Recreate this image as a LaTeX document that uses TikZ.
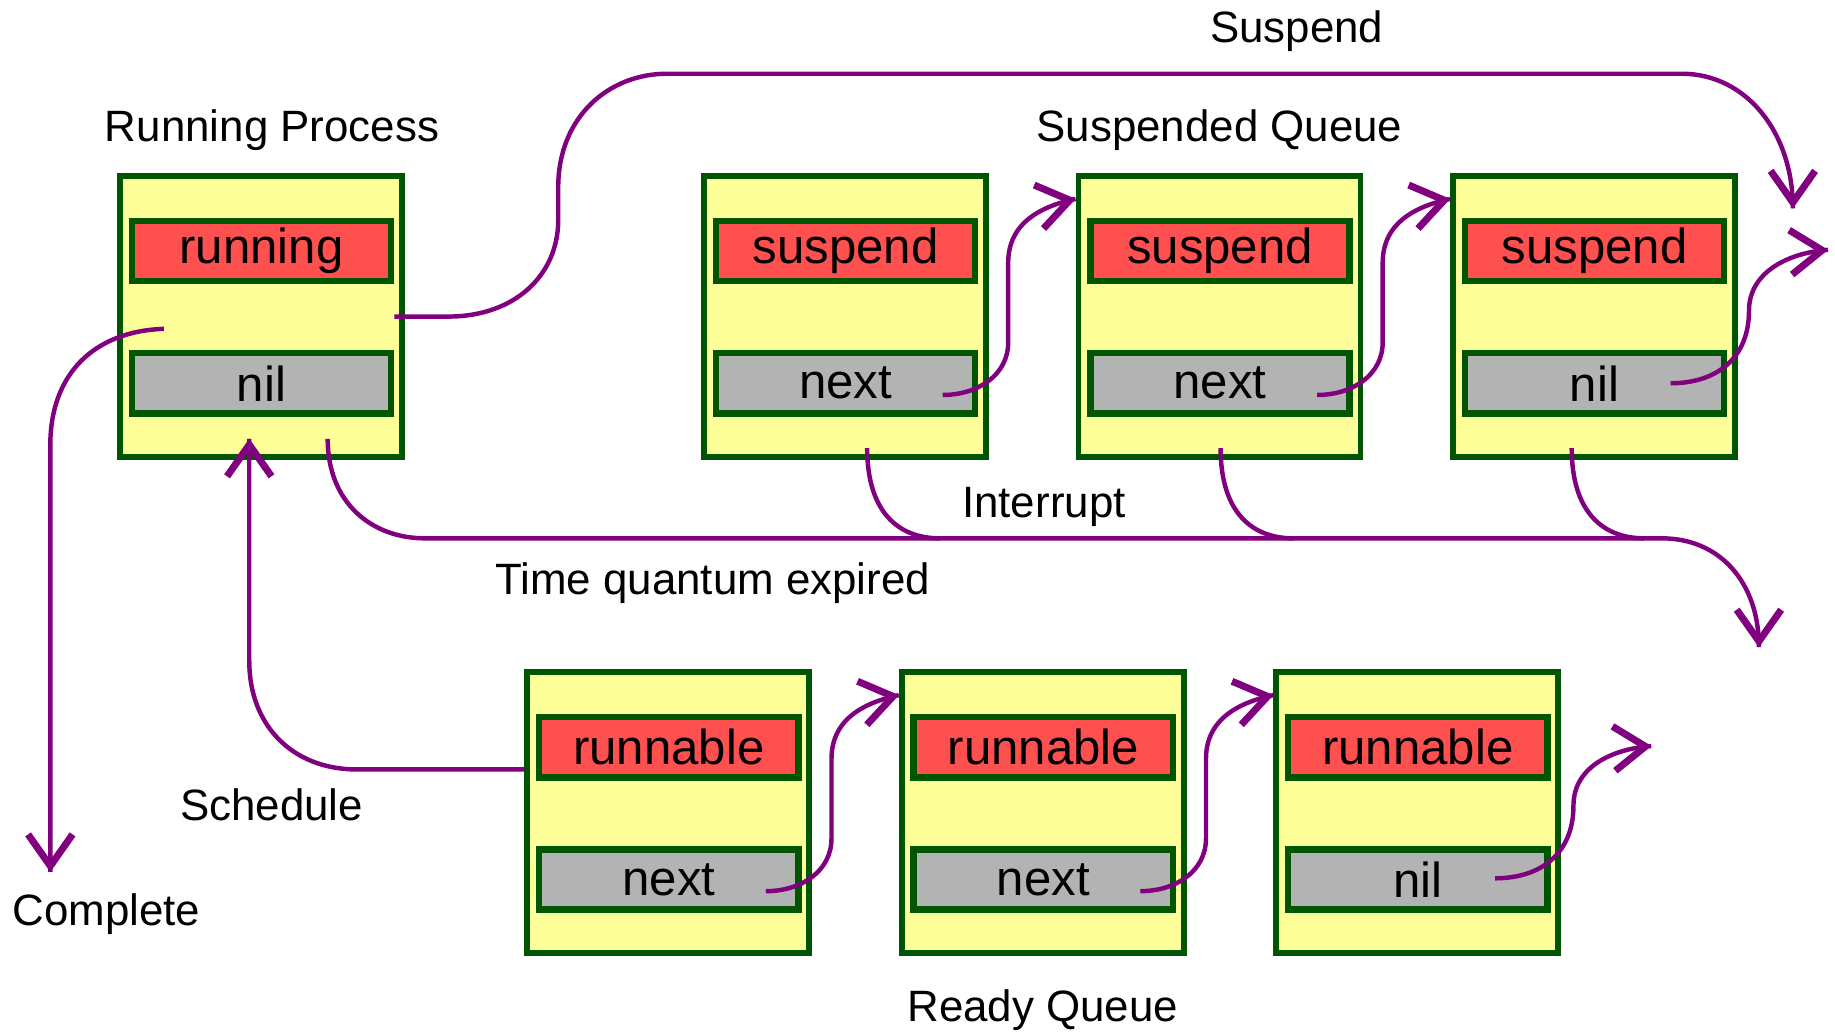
\documentclass[tikz,border=0pt]{standalone}
\usepackage{fontspec}
\setmainfont{Liberation Sans}
\usetikzlibrary{calc,decorations.markings}

\definecolor{recfill}{RGB}{255,255,153}
\definecolor{fieldred}{RGB}{255,80,80}
\definecolor{fieldgray}{RGB}{179,179,179}
\definecolor{dgreen}{RGB}{0,85,0}
\definecolor{purp}{RGB}{128,0,128}

% one process record: name, centre x, centre y, state field, link field
\newcommand\procrec[5]{%
  \node[recbox] (#1) at (#2,#3) {};
  \node[topfield] (#1-top) at (#2+0.5,#3-56) {#4};
  \node[botfield] (#1-bot) at (#2+0.5,#3+57) {#5};
}

\begin{document}
\begin{tikzpicture}[x=1pt,y=-1pt,
  recbox/.style={draw=dgreen, fill=recfill, line width=5pt,
    minimum width=241pt, minimum height=240pt, inner sep=0pt},
  field/.style={draw=dgreen, line width=5.5pt, minimum width=221.5pt,
    minimum height=51.5pt, inner sep=0pt, font=\fontsize{42}{46}\selectfont},
  topfield/.style={field, fill=fieldred},
  botfield/.style={field, fill=fieldgray},
  lbl/.style={font=\fontsize{37.5}{40}\selectfont, anchor=base, inner sep=0pt},
  conn/.style={draw=purp, line width=3.8pt},
  % connector ending in a bold open barb
  arr/.style={conn, postaction={decorate}, decoration={markings,
    mark=at position 0.99999 with {\draw[purp, line width=6pt, line join=miter,
      line cap=butt] (-32pt,-19pt) -- (-5pt,0pt) -- (-32pt,19pt);}}}]

\useasboundingbox (0,0) rectangle (1568,883);

% records
\procrec{run}{223}{270.5}{running}{nil}
\procrec{s1}{722}{270.5}{suspend}{next}
\procrec{s2}{1042}{270.5}{suspend}{next}
\procrec{s3}{1362}{270.5}{suspend}{nil}
\procrec{r1}{571}{694.5}{runnable}{next}
\procrec{r2}{891}{694.5}{runnable}{next}
\procrec{r3}{1211}{694.5}{runnable}{nil}

% captions
\node[lbl] (lbl-run) at (232.5,121) {Running Process};
\node[lbl] (lbl-susq) at (1042,121) {Suspended Queue};
\node[lbl] (lbl-susp) at (1108,36) {Suspend};
\node[lbl] (lbl-int) at (892,442) {Interrupt};
\node[lbl] (lbl-tq) at (609,508) {Time quantum expired};
\node[lbl] (lbl-sched) at (232,701) {Schedule};
\node[lbl] (lbl-done) at (91,791) {Complete};
\node[lbl] (lbl-readyq) at (891,873) {Ready Queue};

% free ends
\coordinate (s3-out) at ($(s3.east)+(77,-57)$);
\coordinate (r3-out) at ($(r3.east)+(77,-57)$);
\coordinate (susp-end) at (1532,178);
\coordinate (done-end) at (43,745);
\coordinate (ready-tail) at (1503,553);

% next pointers of the suspended queue
\draw[arr] ($(s1-bot.center)+(83,10)$) .. controls +(30,0) and +(0,28) .. ++(56,-45)
  -- ++(0,-68) .. controls +(0,-35) and +(-28,6) .. ($(s2.north west)+(0,22)$);
\draw[arr] ($(s2-bot.center)+(83,10)$) .. controls +(30,0) and +(0,28) .. ++(56,-45)
  -- ++(0,-68) .. controls +(0,-35) and +(-28,6) .. ($(s3.north west)+(0,22)$);
\draw[arr] ($(s3-bot.center)+(65,0)$) .. controls +(40,0) and +(0,40) .. ++(67,-62)
  .. controls +(0,-35) and +(-30,2) .. (s3-out);

% next pointers of the ready queue
\draw[arr] ($(r1-bot.center)+(83,10)$) .. controls +(30,0) and +(0,28) .. ++(56,-45)
  -- ++(0,-68) .. controls +(0,-35) and +(-28,6) .. ($(r2.north west)+(0,22)$);
\draw[arr] ($(r2-bot.center)+(83,10)$) .. controls +(30,0) and +(0,28) .. ++(56,-45)
  -- ++(0,-68) .. controls +(0,-35) and +(-28,6) .. ($(r3.north west)+(0,22)$);
\draw[arr] ($(r3-bot.center)+(66,-1)$) .. controls +(40,0) and +(0,40) .. ++(67,-62)
  .. controls +(0,-35) and +(-30,2) .. (r3-out);

% Suspend: running process to the tail of the suspended queue
\draw[arr] ($(run.east)+(-9,0)$) -- ++(46,0) .. controls +(57,0) and +(0,47) .. (477,188)
  -- (477,160) .. controls +(0,-60) and +(-50,0) .. (570,63)
  -- (1437,63) .. controls +(55,0) and +(0,-65) .. (susp-end);

% Complete
\draw[arr] ($(run.center)+(-83,10.5)$) .. controls +(-60,2) and +(0,-60) .. (43,380)
  -- (done-end);

% Time quantum expired: running process to the tail of the ready queue
\draw[arr] ($(run.south)+(57,-18)$) .. controls +(0,55) and +(-45,0) .. (363,460)
  -- (1420,460) .. controls +(50,0) and +(0,-55) .. (ready-tail);

% Interrupt: suspended records join the same line
\draw[conn] ($(s1.south)+(19,-10)$) .. controls +(0,55) and +(-35,0) .. ++(62,77);
\draw[conn] ($(s2.south)+(1,-10)$) .. controls +(0,55) and +(-35,0) .. ++(62,77);
\draw[conn] ($(s3.south)+(-19,-10)$) .. controls +(0,55) and +(-35,0) .. ++(62,77);

% Schedule: head of the ready queue becomes the running process
\draw[arr] ($(r1.west)+(0,-37)$) -- (305,657.5) .. controls +(-55,0) and +(0,55) .. (213,565)
  -- ($(run.south)+(-10,-18)$);

\end{tikzpicture}
\end{document}
